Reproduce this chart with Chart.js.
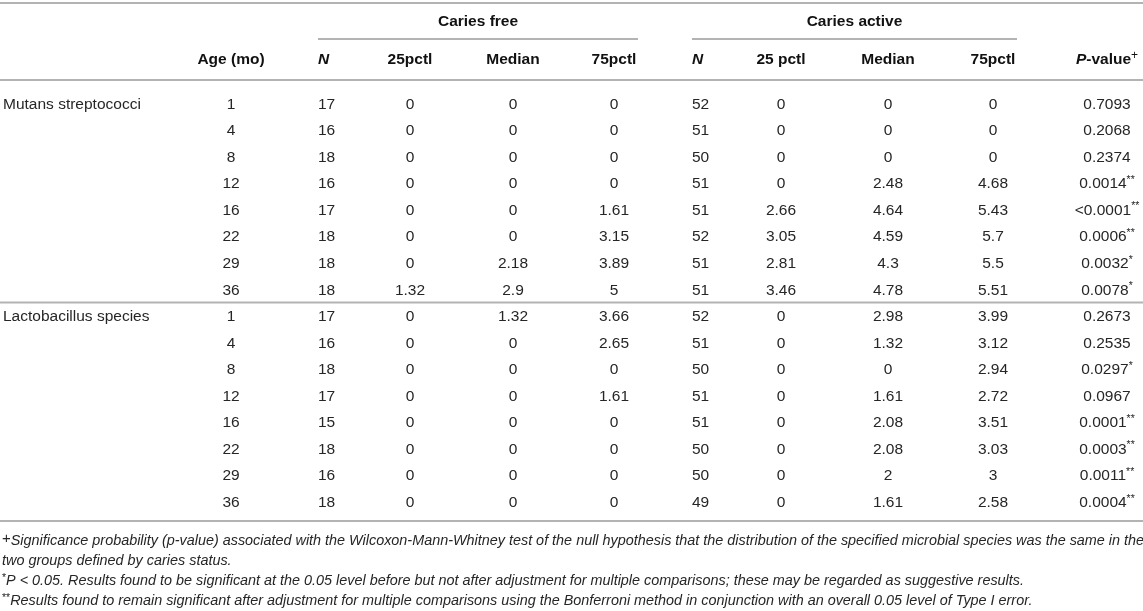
<!DOCTYPE html>
<html>
<head>
<meta charset="utf-8">
<script src="https://cdn.jsdelivr.net/npm/chart.js@4.4.1/dist/chart.umd.min.js"></script>
<style>
  html, body { margin: 0; padding: 0; background: #fff; }
  #wrap { width: 1143px; height: 611px; }
</style>
</head>
<body>
<div id="wrap"><canvas id="tableChart"></canvas></div>
<script>
// table values, row order: Mutans streptococci ages then Lactobacillus species ages
var organisms = ['Mutans streptococci', 'Lactobacillus species'];
var ages = [1, 4, 8, 12, 16, 22, 29, 36];

var freeN   = [17, 16, 18, 16, 17, 18, 18, 18,   17, 16, 18, 17, 15, 18, 16, 18];
var free25  = [0, 0, 0, 0, 0, 0, 0, 1.32,         0, 0, 0, 0, 0, 0, 0, 0];
var freeMed = [0, 0, 0, 0, 0, 0, 2.18, 2.9,       1.32, 0, 0, 0, 0, 0, 0, 0];
var free75  = [0, 0, 0, 0, 1.61, 3.15, 3.89, 5,   3.66, 2.65, 0, 1.61, 0, 0, 0, 0];

var activeN   = [52, 51, 50, 51, 51, 52, 51, 51,          52, 51, 50, 51, 51, 50, 50, 49];
var active25  = [0, 0, 0, 0, 2.66, 3.05, 2.81, 3.46,      0, 0, 0, 0, 0, 0, 0, 0];
var activeMed = [0, 0, 0, 2.48, 4.64, 4.59, 4.3, 4.78,    2.98, 1.32, 0, 1.61, 2.08, 2.08, 2, 1.61];
var active75  = [0, 0, 0, 4.68, 5.43, 5.7, 5.5, 5.51,     3.99, 3.12, 2.94, 2.72, 3.51, 3.03, 3, 2.58];

var pValue = ['0.7093', '0.2068', '0.2374', '0.0014', '<0.0001', '0.0006', '0.0032', '0.0078',
              '0.2673', '0.2535', '0.0297', '0.0967', '0.0001', '0.0003', '0.0011', '0.0004'];
var pStars = ['', '', '', '**', '**', '**', '*', '*',
              '', '', '*', '', '**', '**', '**', '**'];

var footnotes = [
  { mark: '+', text: 'Significance probability (p-value) associated with the Wilcoxon-Mann-Whitney test of the null hypothesis that the distribution of the specified microbial species was the same in the' },
  { mark: '', text: 'two groups defined by caries status.' },
  { mark: '*', text: 'P < 0.05. Results found to be significant at the 0.05 level before but not after adjustment for multiple comparisons; these may be regarded as suggestive results.' },
  { mark: '**', text: 'Results found to remain significant after adjustment for multiple comparisons using the Bonferroni method in conjunction with an overall 0.05 level of Type I error.' }
];

var rowKeys = [];
organisms.forEach(function (o) {
  ages.forEach(function (a) { rowKeys.push(o + ' ' + a); });
});

// layout of the columns (x in canvas units, the x scale runs 0..1143)
var FONT = '"Liberation Sans", Arial, Helvetica, sans-serif';
var INK = '#262626';
var HEAD_INK = '#111';
var RULE = '#b3b3b3';
var columns = [
  { x: 3,    align: 'left',   cell: function (i) { return i % ages.length === 0 ? organisms[i / ages.length] : ''; } },
  { x: 231,  align: 'center', cell: function (i) { return String(ages[i % ages.length]); } },
  { x: 318,  align: 'left',   cell: function (i) { return String(freeN[i]); } },
  { x: 410,  align: 'center', cell: function (i) { return String(free25[i]); } },
  { x: 513,  align: 'center', cell: function (i) { return String(freeMed[i]); } },
  { x: 614,  align: 'center', cell: function (i) { return String(free75[i]); } },
  { x: 692,  align: 'left',   cell: function (i) { return String(activeN[i]); } },
  { x: 781,  align: 'center', cell: function (i) { return String(active25[i]); } },
  { x: 888,  align: 'center', cell: function (i) { return String(activeMed[i]); } },
  { x: 993,  align: 'center', cell: function (i) { return String(active75[i]); } },
  { x: 1107, align: 'center', cell: function (i) { return pValue[i]; }, sup: function (i) { return pStars[i]; } }
];
var groupSpans = [
  { title: 'Caries free',   from: 318, to: 638 },
  { title: 'Caries active', from: 692, to: 1017 }
];

function drawRich(ctx, parts, x, y, align) {
  // parts: [{t, font, dy}]
  var total = 0;
  parts.forEach(function (p) { ctx.font = p.font; p.w = ctx.measureText(p.t).width; total += p.w; });
  var cx = align === 'center' ? x - total / 2 : (align === 'right' ? x - total : x);
  ctx.textAlign = 'left';
  parts.forEach(function (p) {
    ctx.font = p.font;
    ctx.fillText(p.t, cx, y + (p.dy || 0));
    cx += p.w;
  });
}

function hLine(ctx, x1, x2, y) {
  ctx.beginPath();
  ctx.moveTo(x1, y);
  ctx.lineTo(x2, y);
  ctx.stroke();
}

var tablePlugin = {
  id: 'tablePlugin',
  afterDatasetsDraw: function (chart) {
    var ctx = chart.ctx;
    var xs = chart.scales.x, ys = chart.scales.y;
    var area = chart.chartArea;
    var body = '15.5px ' + FONT, bold = 'bold 15.5px ' + FONT, boldIt = 'italic bold 15.5px ' + FONT;
    ctx.save();
    ctx.textBaseline = 'middle';

    // rules
    ctx.strokeStyle = RULE;
    ctx.lineWidth = 2;
    hLine(ctx, 0, chart.width, 3);
    hLine(ctx, 0, chart.width, 80);
    groupSpans.forEach(function (g) { hLine(ctx, xs.getPixelForValue(g.from), xs.getPixelForValue(g.to), 39); });
    var sepY = (ys.getPixelForValue(ages.length - 1) + ys.getPixelForValue(ages.length)) / 2;
    hLine(ctx, 0, chart.width, sepY);
    hLine(ctx, 0, chart.width, area.bottom + 6);

    // header
    ctx.fillStyle = HEAD_INK;
    ctx.textAlign = 'center';
    ctx.font = bold;
    groupSpans.forEach(function (g) {
      ctx.fillText(g.title, (xs.getPixelForValue(g.from) + xs.getPixelForValue(g.to)) / 2, 22);
    });
    var hy = 60;
    var heads = [null, [{ t: 'Age (mo)', font: bold }], [{ t: 'N', font: boldIt }],
      [{ t: '25pctl', font: bold }], [{ t: 'Median', font: bold }], [{ t: '75pctl', font: bold }],
      [{ t: 'N', font: boldIt }], [{ t: '25 pctl', font: bold }], [{ t: 'Median', font: bold }],
      [{ t: '75pctl', font: bold }],
      [{ t: 'P', font: boldIt }, { t: '-value', font: bold }, { t: '+', font: '12px ' + FONT, dy: -4 }]];
    heads.forEach(function (h, c) {
      if (h) drawRich(ctx, h, xs.getPixelForValue(columns[c].x), hy, columns[c].align);
    });

    // cells, placed on the dataset points
    ctx.fillStyle = INK;
    chart.data.datasets.forEach(function (ds, d) {
      var meta = chart.getDatasetMeta(d);
      var col = columns[d];
      meta.data.forEach(function (pt, i) {
        var parts = [{ t: col.cell(i), font: body }];
        if (col.sup && col.sup(i)) parts.push({ t: col.sup(i), font: '10.5px ' + FONT, dy: -4 });
        drawRich(ctx, parts, pt.x, pt.y + 1, col.align);
      });
    });

    // footnotes
    var fy = area.bottom + 26;
    var it = 'italic 14.4px ' + FONT;
    footnotes.forEach(function (f, k) {
      var parts = [];
      if (f.mark === '+') parts.push({ t: '+', font: '15px ' + FONT, dy: -2 });
      else if (f.mark) parts.push({ t: f.mark, font: '10.5px ' + FONT, dy: -3 });
      parts.push({ t: f.text, font: it });
      drawRich(ctx, parts, 2, fy + k * 20, 'left');
    });
    ctx.restore();
  }
};

var datasets = columns.map(function (col) {
  return {
    data: rowKeys.map(function (key) { return { x: col.x, y: key }; }),
    pointRadius: 0,
    pointHoverRadius: 0,
    showLine: false
  };
});

new Chart(document.getElementById('tableChart'), {
  type: 'scatter',
  data: { datasets: datasets },
  options: {
    responsive: true,
    maintainAspectRatio: false,
    animation: false,
    events: [],
    layout: { padding: { top: 90, bottom: 96, left: 0, right: 0 } },
    plugins: { legend: { display: false }, tooltip: { enabled: false } },
    scales: {
      x: { type: 'linear', min: 0, max: 1143, display: false },
      y: { type: 'category', labels: rowKeys, offset: true, display: false }
    }
  },
  plugins: [tablePlugin]
});
</script>
</body>
</html>
